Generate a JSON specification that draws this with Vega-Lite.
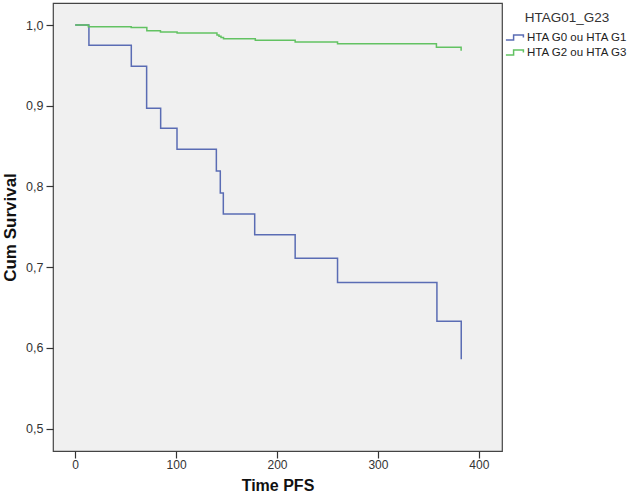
{
  "$schema": "https://vega.github.io/schema/vega-lite/v6.json",
  "autosize": {"type": "none"},
  "width": 449,
  "height": 448,
  "padding": {"left": 53, "top": 3, "right": 131, "bottom": 49},
  "background": "#ffffff",
  "config": {
    "font": "Liberation Sans",
    "view": {"fill": "#f0f0f0", "stroke": "#444444", "strokeWidth": 1.2}
  },
  "data": {
    "values": [
      {"time": 0, "surv": 1.0, "group": "HTA G0 ou HTA G1"},
      {"time": 13.6, "surv": 0.975, "group": "HTA G0 ou HTA G1"},
      {"time": 55.6, "surv": 0.949, "group": "HTA G0 ou HTA G1"},
      {"time": 70.8, "surv": 0.897, "group": "HTA G0 ou HTA G1"},
      {"time": 84.7, "surv": 0.872, "group": "HTA G0 ou HTA G1"},
      {"time": 100.9, "surv": 0.846, "group": "HTA G0 ou HTA G1"},
      {"time": 139.9, "surv": 0.819, "group": "HTA G0 ou HTA G1"},
      {"time": 143.8, "surv": 0.792, "group": "HTA G0 ou HTA G1"},
      {"time": 146.8, "surv": 0.766, "group": "HTA G0 ou HTA G1"},
      {"time": 177.9, "surv": 0.740, "group": "HTA G0 ou HTA G1"},
      {"time": 218, "surv": 0.711, "group": "HTA G0 ou HTA G1"},
      {"time": 260, "surv": 0.681, "group": "HTA G0 ou HTA G1"},
      {"time": 358.5, "surv": 0.633, "group": "HTA G0 ou HTA G1"},
      {"time": 382.6, "surv": 0.586, "group": "HTA G0 ou HTA G1"},
      {"time": 0, "surv": 1.0, "group": "HTA G2 ou HTA G3"},
      {"time": 13, "surv": 0.998, "group": "HTA G2 ou HTA G3"},
      {"time": 55.5, "surv": 0.997, "group": "HTA G2 ou HTA G3"},
      {"time": 71, "surv": 0.993, "group": "HTA G2 ou HTA G3"},
      {"time": 84.5, "surv": 0.9915, "group": "HTA G2 ou HTA G3"},
      {"time": 101, "surv": 0.990, "group": "HTA G2 ou HTA G3"},
      {"time": 140.5, "surv": 0.9875, "group": "HTA G2 ou HTA G3"},
      {"time": 142.5, "surv": 0.986, "group": "HTA G2 ou HTA G3"},
      {"time": 144.5, "surv": 0.9845, "group": "HTA G2 ou HTA G3"},
      {"time": 147, "surv": 0.983, "group": "HTA G2 ou HTA G3"},
      {"time": 178.5, "surv": 0.981, "group": "HTA G2 ou HTA G3"},
      {"time": 218, "surv": 0.979, "group": "HTA G2 ou HTA G3"},
      {"time": 260, "surv": 0.9767, "group": "HTA G2 ou HTA G3"},
      {"time": 358, "surv": 0.9724, "group": "HTA G2 ou HTA G3"},
      {"time": 382.5, "surv": 0.968, "group": "HTA G2 ou HTA G3"}
    ]
  },
  "mark": {"type": "line", "interpolate": "step-after", "strokeWidth": 1.5},
  "encoding": {
    "x": {
      "field": "time", "type": "quantitative",
      "scale": {"domain": [-22, 423], "nice": false, "zero": false},
      "axis": {
        "title": "Time PFS", "values": [0, 100, 200, 300, 400], "grid": false,
        "domain": false, "tickSize": 7, "tickColor": "#333333", "tickWidth": 1.2,
        "labelFontSize": 12, "labelColor": "#333333", "labelPadding": 1,
        "titleFontSize": 16, "titleFontWeight": "bold", "titleColor": "#111111", "titlePadding": 7
      }
    },
    "y": {
      "field": "surv", "type": "quantitative",
      "scale": {"domain": [0.4722, 1.0273], "nice": false, "zero": false},
      "axis": {
        "title": "Cum Survival", "values": [0.5, 0.6, 0.7, 0.8, 0.9, 1.0], "grid": false,
        "domain": false, "tickSize": 7, "tickColor": "#333333", "tickWidth": 1.2,
        "labelExpr": "replace(format(datum.value, '.1f'), '.', ',')",
        "labelFontSize": 12.5, "labelColor": "#333333", "labelPadding": 3,
        "titleFontSize": 17, "titleFontWeight": "bold", "titleColor": "#111111", "titlePadding": 6
      }
    },
    "color": {
      "field": "group", "type": "nominal",
      "scale": {"domain": ["HTA G0 ou HTA G1", "HTA G2 ou HTA G3"], "range": ["#5a6cb4", "#62c262"]},
      "legend": {
        "title": "HTAG01_G23",
        "orient": "none", "legendX": 454, "legendY": 8,
        "titleAnchor": "middle", "titleFontSize": 13.5, "titleFontWeight": "normal", "titleColor": "#333333",
        "titlePadding": 5,
        "labelFontSize": 11.5, "labelColor": "#222222", "labelOffset": 4,
        "symbolType": "M-1.3,0.35 L-0.2,0.35 L-0.2,-0.35 L1.2,-0.35 L1.2,0",
        "symbolSize": 196, "symbolStrokeWidth": 1.5, "symbolFillColor": "transparent",
        "rowPadding": 1
      }
    }
  }
}
